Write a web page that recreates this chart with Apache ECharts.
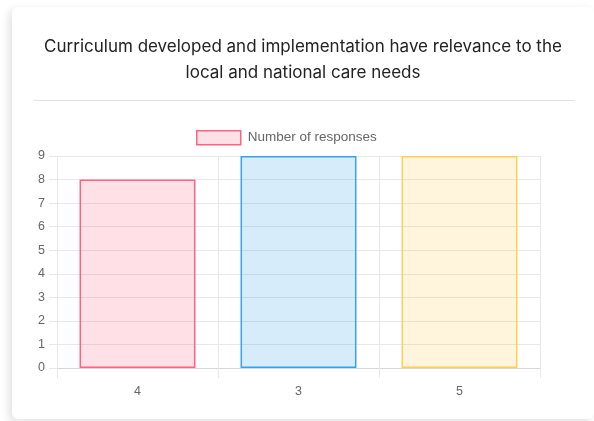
<!DOCTYPE html>
<html>
<head>
<meta charset="utf-8">
<script src="https://cdn.jsdelivr.net/npm/echarts@6/dist/echarts.min.js"></script>
<style>
  html, body { margin: 0; padding: 0; background: #fff; }
  .card {
    position: absolute; left: 12px; top: 7px; width: 582px; height: 412px;
    background: #fff; border-radius: 6px;
    box-shadow: -3px 3px 8px rgba(0,0,0,0.12);
  }
  #chart { width: 582px; height: 412px; }
</style>
</head>
<body>
<div class="card"><div id="chart"></div></div>
<script>
// 数据
const categories = ['4', '3', '5'];
const responses = [8, 9, 9];
const fills = ['rgba(255,99,132,0.2)', 'rgba(54,162,235,0.2)', 'rgba(255,206,86,0.2)'];
const borders = ['rgb(255,99,132)', 'rgb(54,162,235)', 'rgb(255,206,86)'];

const chart = echarts.init(document.getElementById('chart'));
const gridColor = '#e8e8e8';

const option = {
  animation: false,
  title: {
    text: 'Curriculum developed and implementation have relevance to the\nlocal and national care needs',
    left: 'center',
    top: 22,
    textStyle: {
      fontFamily: 'Inter, "Noto Sans", sans-serif',
      fontSize: 17, fontWeight: 'normal', color: '#222', lineHeight: 26,
      align: 'center'
    }
  },
  graphic: [{
    type: 'line',
    shape: { x1: 22, y1: 93.5, x2: 563, y2: 93.5 },
    style: { stroke: '#e2e2e2', lineWidth: 1 }
  }],
  legend: {
    left: 184, top: 123, padding: 0,
    itemWidth: 44, itemHeight: 14, itemGap: 10,
    icon: 'rect',
    itemStyle: { color: fills[0], borderColor: borders[0], borderWidth: 1.5 },
    textStyle: { color: '#666', fontSize: 13.5, fontFamily: 'Helvetica, Arial, sans-serif', padding: [0, 0, 0, 2] },
    data: ['Number of responses']
  },
  grid: { left: 45, right: 54, top: 149, bottom: 51, containLabel: false },
  xAxis: {
    type: 'category',
    data: categories,
    boundaryGap: true,
    axisLine: { show: true, lineStyle: { color: '#d6d6d6', width: 1 } },
    axisTick: { show: true, alignWithLabel: false, length: 10, lineStyle: { color: gridColor } },
    axisLabel: { color: '#666', fontSize: 12.5, margin: 17, fontFamily: 'Helvetica, Arial, sans-serif' },
    splitLine: { show: true, lineStyle: { color: gridColor } }
  },
  yAxis: {
    type: 'value',
    min: 0, max: 9, interval: 1,
    axisLine: { show: true, lineStyle: { color: gridColor } },
    axisTick: { show: true, length: 8, lineStyle: { color: gridColor } },
    axisLabel: { color: '#666', fontSize: 12.5, margin: 12, fontFamily: 'Helvetica, Arial, sans-serif' },
    splitLine: { show: true, lineStyle: { color: gridColor } }
  },
  series: [{
    name: 'Number of responses',
    type: 'bar',
    barWidth: '72%',
    itemStyle: { color: fills[0], borderColor: borders[0], borderWidth: 1.5 },
    data: responses.map((v, i) => ({
      value: v,
      itemStyle: { color: fills[i], borderColor: borders[i], borderWidth: 1.5 }
    }))
  }]
};
chart.setOption(option);
</script>
</body>
</html>
